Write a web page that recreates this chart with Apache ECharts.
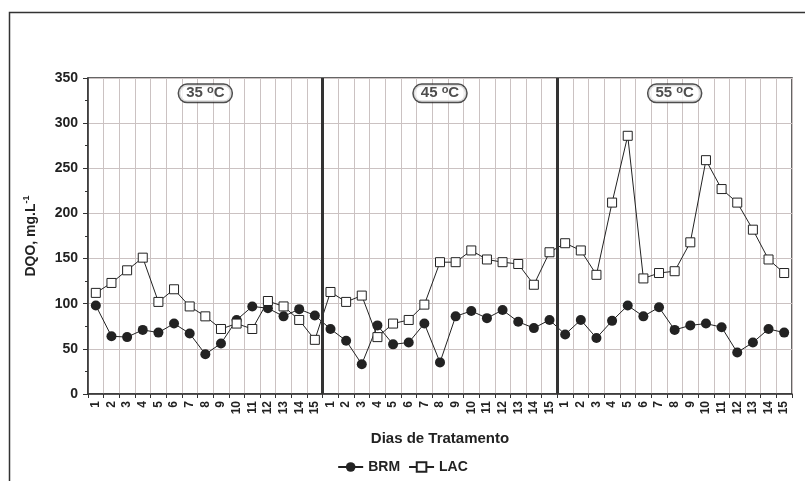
<!DOCTYPE html>
<html><head><meta charset="utf-8">
<script src="https://cdn.jsdelivr.net/npm/echarts@6/dist/echarts.min.js"></script>
<style>html,body{margin:0;padding:0;background:#fff}#c{width:805px;height:481px}</style>
</head><body><div id="c"></div>
<script>
const days = ['1','2','3','4','5','6','7','8','9','10','11','12','13','14','15',
              '1','2','3','4','5','6','7','8','9','10','11','12','13','14','15',
              '1','2','3','4','5','6','7','8','9','10','11','12','13','14','15'];
const brm = [98,64,63,71,68,78,67,44,56,82,97,95,86,94,87,
             72,59,33,76,55,57,78,35,86,92,84,93,80,73,82,
             66,82,62,81,98,86,96,71,76,78,74,46,57,72,68];
const lac = [112,123,137,151,102,116,97,86,72,78,72,103,97,82,60,
             113,102,109,63,78,82,99,146,146,159,149,146,144,121,157,
             167,159,132,212,286,128,134,136,168,259,227,212,182,149,134];
const phases = ['35','45','55'];
const yTicks = [0,50,100,150,200,250,300,350];

const FF = '"Liberation Sans", Arial, sans-serif';
const INK = '#222';
const GRID = '#cbc2c2';

const chart = echarts.init(document.getElementById('c'), null, {renderer:'canvas'});
chart.setOption({
  animation: false,
  textStyle: {fontFamily: FF},
  graphic: [{type:'rect', shape:{x:9.5,y:12.5,width:900,height:600}, style:{fill:'none',stroke:'#333',lineWidth:1.5}}],
  grid: {left:88, right:13, top:78, bottom:87, show:true, borderColor:'#333', borderWidth:1.5},
  legend: {
    data:['BRM','LAC'], bottom:2, left:'center', itemWidth:25, itemHeight:12, itemGap:8,
    textStyle:{fontFamily:FF, fontWeight:'bold', fontSize:14, color:INK}
  },
  xAxis: [{
    type:'category', data: days, boundaryGap:true,
    axisLine:{lineStyle:{color:'#333', width:1.5}},
    axisTick:{show:true, interval:0, length:4, lineStyle:{color:'#333'}},
    axisLabel:{interval:0, rotate:90, fontFamily:FF, fontSize:12, fontWeight:'bold', color:INK, margin:7},
    splitLine:{show:true, interval:0, lineStyle:{color:GRID, width:1}},
    name:'Dias de Tratamento', nameLocation:'middle', nameGap:37,
    nameTextStyle:{fontFamily:FF, fontWeight:'bold', fontSize:15, color:INK}
  },{
    type:'value', min:0, max:45, show:false
  }],
  yAxis: {
    type:'value', min:yTicks[0], max:yTicks[yTicks.length-1], interval:50,
    axisLine:{show:true, lineStyle:{color:'#333', width:1.5}},
    axisTick:{show:true, length:5, lineStyle:{color:'#333'}},
    minorTick:{show:true, splitNumber:2, length:3, lineStyle:{color:'#333'}},
    axisLabel:{fontFamily:FF, fontSize:14, fontWeight:'bold', color:INK, margin:10},
    splitLine:{show:true, lineStyle:{color:GRID, width:1}},
    name:'{a|DQO, mg.L}{s|-1}', nameLocation:'middle', nameGap:48,
    nameTextStyle:{rich:{
      a:{fontFamily:FF, fontWeight:'bold', fontSize:14, color:INK, lineHeight:18},
      s:{fontFamily:FF, fontWeight:'bold', fontSize:9, color:INK, verticalAlign:'top', lineHeight:10}
    }}
  },
  series: [
    {name:'BRM', type:'line', data: brm, symbol:'circle', symbolSize:10,
     itemStyle:{color:INK}, lineStyle:{color:INK, width:1}, z:3},
    {name:'LAC', type:'line', data: lac, symbol:'rect', symbolSize:9,
     itemStyle:{color:'#fff', borderColor:INK, borderWidth:1}, lineStyle:{color:INK, width:1}, z:4},
    {name:'phase', type:'scatter', xAxisIndex:1, yAxisIndex:0, z:6,
     data: phases.map((p,i)=>[7.5+15*i, 333]),
     symbolSize:1, itemStyle:{color:'rgba(0,0,0,0)'},
     label:{show:true, position:'inside',
       formatter: p => '{t|' + phases[p.dataIndex] + ' }{s|o}{t|C}',
       backgroundColor:'#fff', borderColor:INK, borderWidth:1.5, borderRadius:8, padding:[0,7,0,7],
       rich:{
         t:{fontFamily:FF, fontWeight:'bold', fontSize:15, color:INK, lineHeight:17},
         s:{fontFamily:FF, fontWeight:'bold', fontSize:11, color:INK, verticalAlign:'top', lineHeight:6}
       }},
     markLine:{silent:true, symbol:'none', label:{show:false},
       lineStyle:{color:'#333', width:3, type:'solid'},
       data:[{xAxis:15},{xAxis:30}]}
    }
  ]
});
</script></body></html>
